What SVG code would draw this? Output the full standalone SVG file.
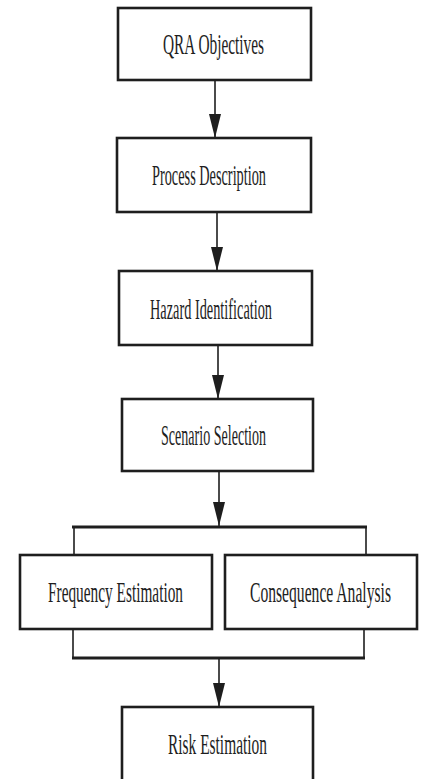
<svg xmlns="http://www.w3.org/2000/svg" width="422" height="779" viewBox="0 0 422 779">
<style>
.box{fill:#fff;stroke:#1e1e1e;stroke-width:2.6}
.lbl{font-family:"Liberation Serif","Times New Roman",serif;font-size:29px;fill:#1e1e1e;text-anchor:middle}
.ln{stroke:#1e1e1e;stroke-width:1.6;fill:none}
.bar{stroke:#1e1e1e;stroke-width:3;fill:none}
</style>
<defs>
<marker id="ah" viewBox="0 0 24 12" refX="24" refY="6" markerWidth="24" markerHeight="12" markerUnits="userSpaceOnUse" orient="auto">
<path d="M0,0 L24,6 L0,12 z" fill="#1e1e1e"/>
</marker>
</defs>
<rect width="422" height="779" fill="#fff"/>
<g id="connectors">
<line class="ln" x1="215" y1="80" x2="215" y2="138" marker-end="url(#ah)"/>
<line class="ln" x1="217" y1="212" x2="217" y2="271" marker-end="url(#ah)"/>
<line class="ln" x1="218" y1="345" x2="218" y2="399" marker-end="url(#ah)"/>
<line class="ln" x1="219" y1="471" x2="219" y2="526" marker-end="url(#ah)"/>
<line class="bar" x1="72" y1="527" x2="367" y2="527"/>
<line class="ln" x1="74" y1="527" x2="74" y2="555"/>
<line class="ln" x1="366" y1="527" x2="366" y2="555"/>
<line class="ln" x1="73" y1="629" x2="73" y2="658"/>
<line class="ln" x1="364" y1="629" x2="364" y2="658"/>
<line class="bar" x1="72" y1="658" x2="365" y2="658"/>
<line class="ln" x1="219" y1="658" x2="219" y2="707" marker-end="url(#ah)"/>
</g>
<g id="qra"><rect class="box" x="118" y="8" width="193" height="72"/><text class="lbl" transform="translate(213.5,54) scale(0.55,1)" textLength="183.6" lengthAdjust="spacingAndGlyphs">QRA Objectives</text></g>
<g id="process"><rect class="box" x="117" y="138" width="194" height="74"/><text class="lbl" transform="translate(209,185) scale(0.55,1)" textLength="207.3" lengthAdjust="spacingAndGlyphs">Process Description</text></g>
<g id="hazard"><rect class="box" x="119" y="271" width="193" height="74"/><text class="lbl" transform="translate(211,319) scale(0.55,1)" textLength="221.8" lengthAdjust="spacingAndGlyphs">Hazard Identification</text></g>
<g id="scenario"><rect class="box" x="122" y="399" width="191" height="72"/><text class="lbl" transform="translate(213.5,445) scale(0.55,1)" textLength="190.9" lengthAdjust="spacingAndGlyphs">Scenario Selection</text></g>
<g id="frequency"><rect class="box" x="20" y="555" width="192" height="74"/><text class="lbl" transform="translate(115.5,602) scale(0.55,1)" textLength="245.5" lengthAdjust="spacingAndGlyphs">Frequency Estimation</text></g>
<g id="consequence"><rect class="box" x="225" y="555" width="192" height="74"/><text class="lbl" transform="translate(320.5,602) scale(0.55,1)" textLength="256.4" lengthAdjust="spacingAndGlyphs">Consequence Analysis</text></g>
<g id="risk"><rect class="box" x="122" y="707" width="191" height="80"/><text class="lbl" transform="translate(217.5,754) scale(0.55,1)" textLength="180" lengthAdjust="spacingAndGlyphs">Risk Estimation</text></g>
</svg>
